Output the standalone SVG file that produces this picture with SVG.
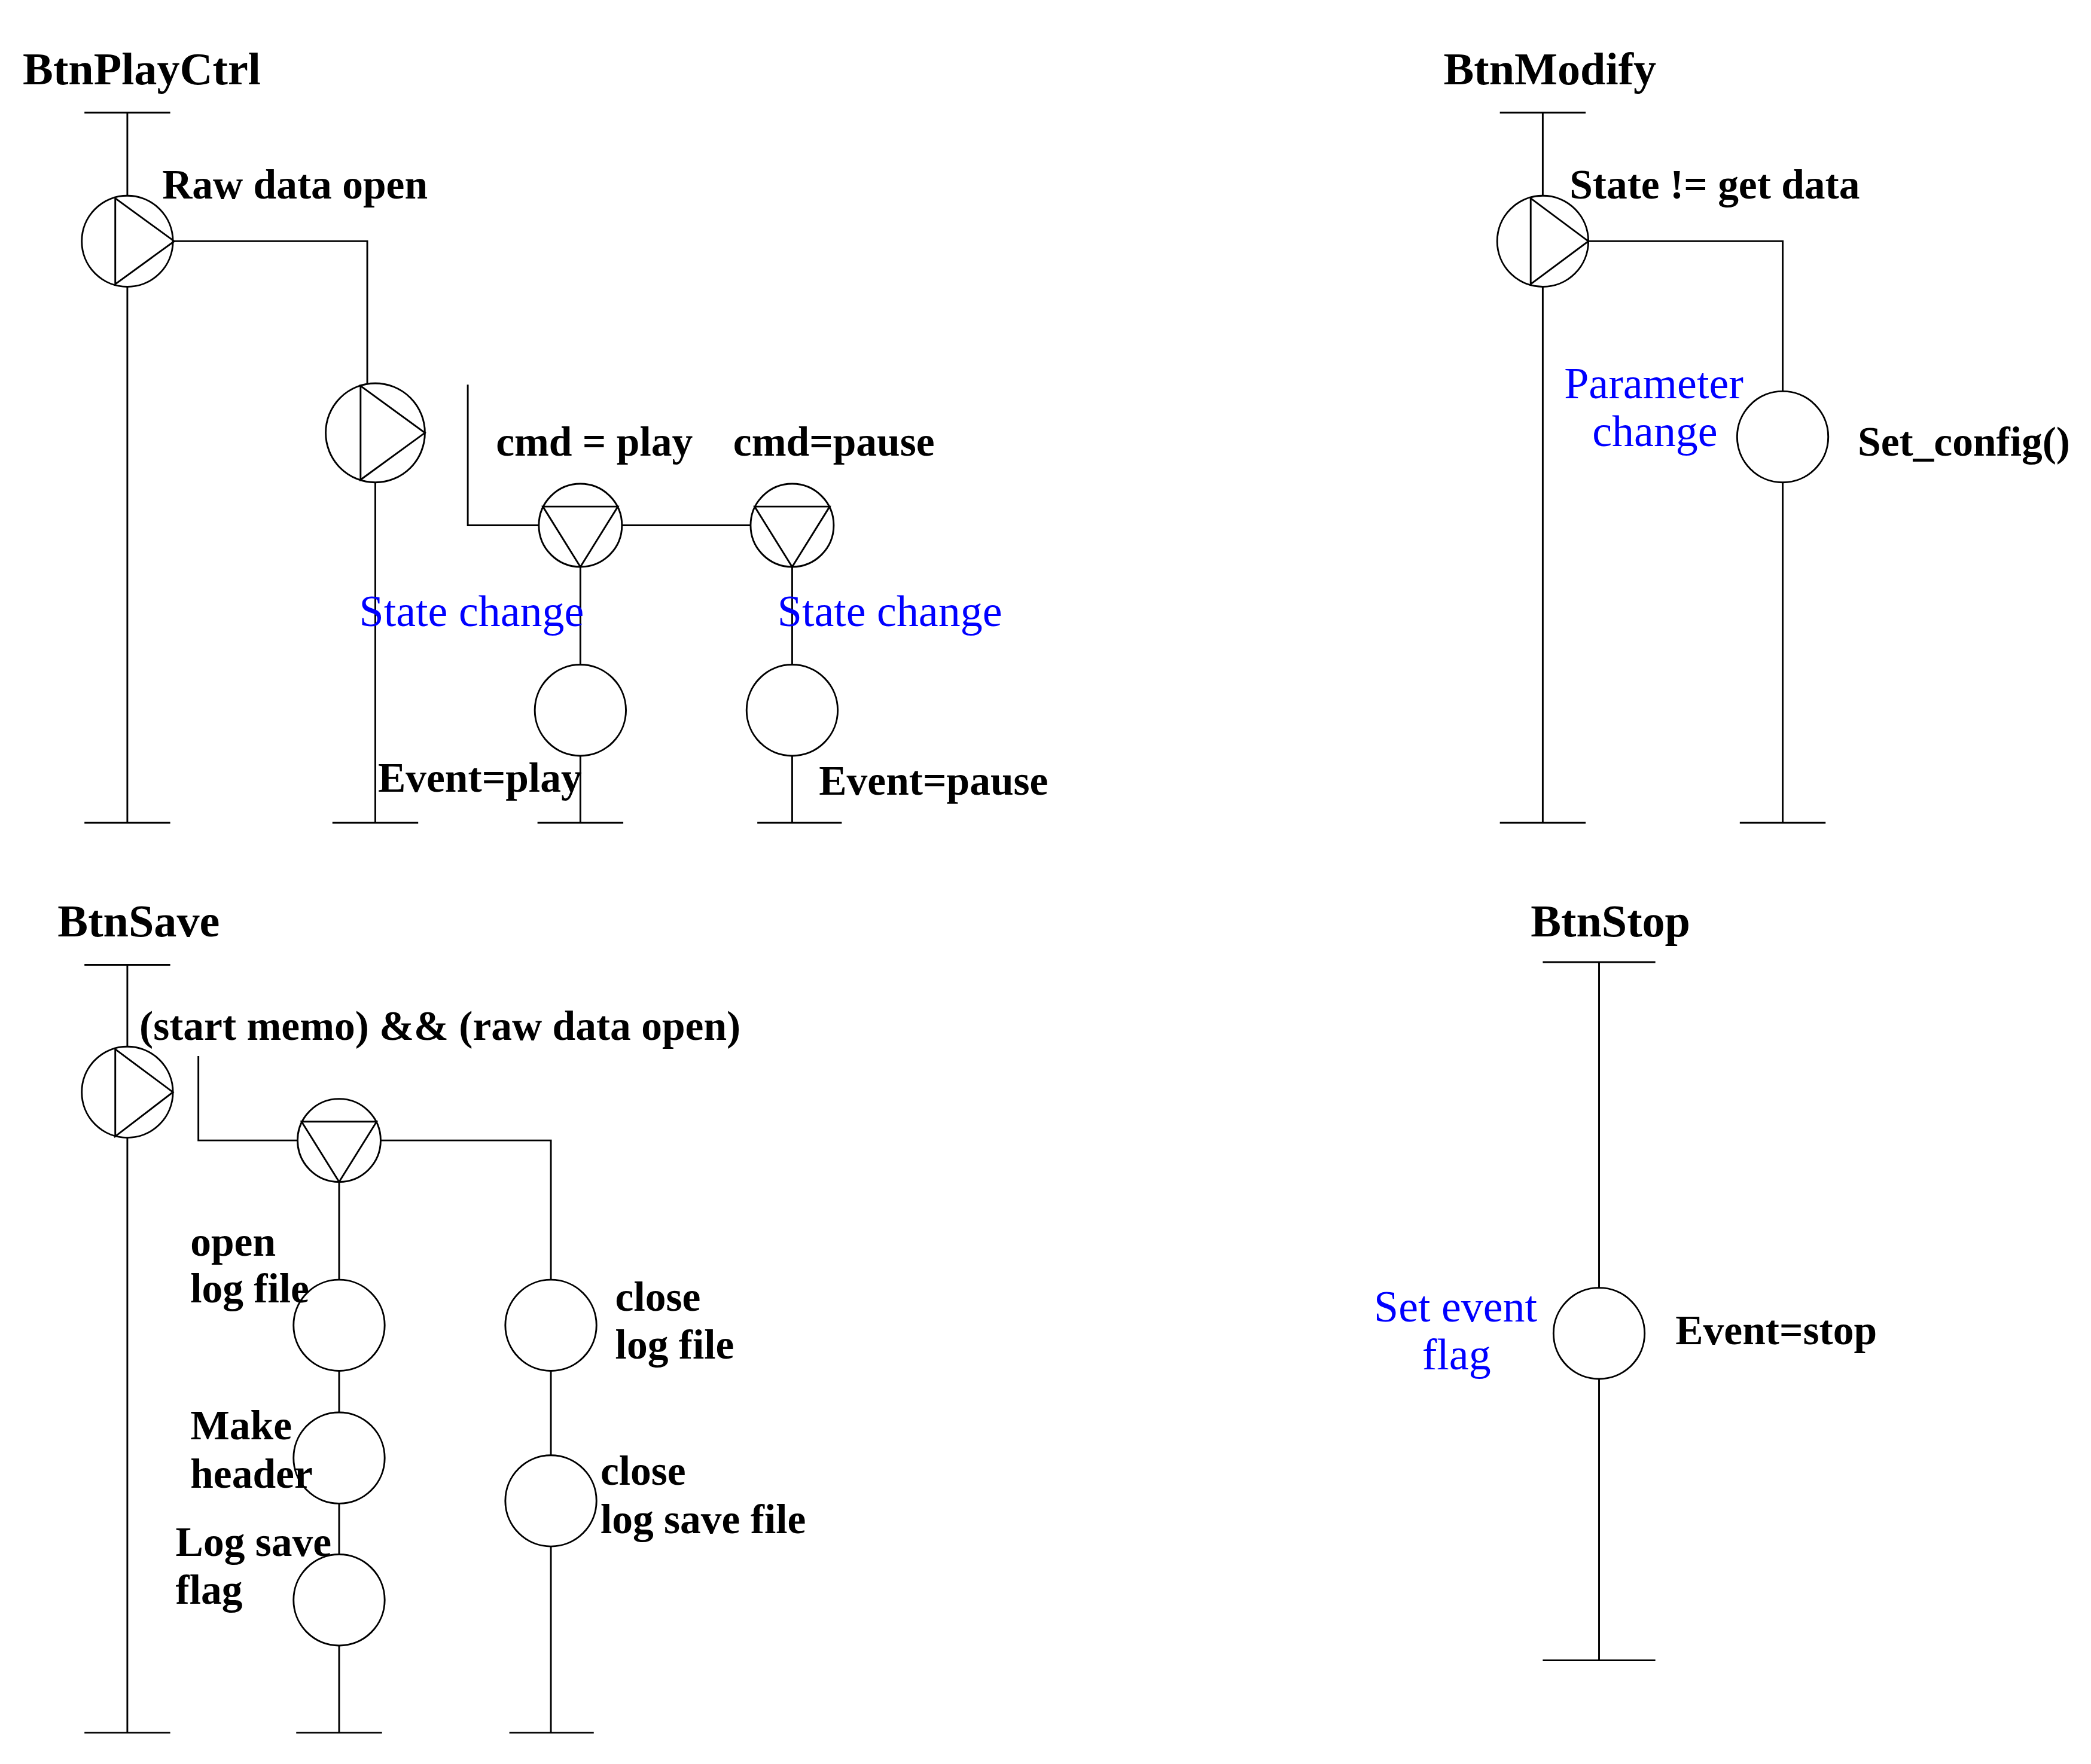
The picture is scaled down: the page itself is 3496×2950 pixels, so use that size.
<svg xmlns="http://www.w3.org/2000/svg" width="3496" height="2950" viewBox="0 0 3496 2950">
<style>
.l{stroke:#000;stroke-width:1.3;fill:none}
.c{stroke:#000;stroke-width:1.3;fill:#fff}
text{font-family:"Liberation Serif","DejaVu Serif",serif;font-size:31px;font-weight:bold;fill:#000}
.t{font-size:34px}
.b{fill:#0000ff;font-weight:normal;font-size:33px}
</style>
<rect width="3496" height="2950" fill="#fff"/>
<g transform="scale(2.241)">
<g id="connectors">
<path class="l" d="M63 84H127M95 84V614M63 614H127"/>
<path class="l" d="M130 180H274V288M280 360V614M248 614H312"/>
<path class="l" d="M349 287V392H403M464 392H560"/>
<path class="l" d="M433 423V497M433 564V614M401 614H465"/>
<path class="l" d="M591 423V496M591 564V614M565 614H628"/>
<path class="l" d="M1119 84H1183M1151 84V614M1119 614H1183"/>
<path class="l" d="M1185 180H1330V292M1330 360V614M1298 614H1362"/>
<path class="l" d="M63 720H127M95 720V1293M63 1293H127"/>
<path class="l" d="M148 788V851H223M284 851H411V955"/>
<path class="l" d="M411 1023V1087M411 1154V1293M380 1293H443"/>
<path class="l" d="M253 882V955M253 1023V1054M253 1122V1160M253 1228V1293M221 1293H285"/>
<path class="l" d="M1151 718H1235M1193 718V961M1193 1029V1239M1151 1239H1235"/>
</g>
<g id="n1"><circle class="c" cx="95" cy="180" r="34"/><path class="l" d="M86 148V212L130 180Z"/></g>
<g id="n2"><circle class="c" cx="280" cy="323" r="37"/><path class="l" d="M269 288V358L317 323Z"/></g>
<g id="n3"><circle class="c" cx="433" cy="392" r="31"/><path class="l" d="M405 378H461L433 423Z"/></g>
<g id="n4"><circle class="c" cx="591" cy="392" r="31"/><path class="l" d="M563 378H619L591 423Z"/></g>
<g id="n5"><circle class="c" cx="433" cy="530" r="34"/></g>
<g id="n6"><circle class="c" cx="591" cy="530" r="34"/></g>
<g id="n7"><circle class="c" cx="1151" cy="180" r="34"/><path class="l" d="M1142 148V212L1185 180Z"/></g>
<g id="n8"><circle class="c" cx="1330" cy="326" r="34"/></g>
<g id="n9"><circle class="c" cx="95" cy="815" r="34"/><path class="l" d="M86 783V848L129 815Z"/></g>
<g id="n10"><circle class="c" cx="253" cy="851" r="31"/><path class="l" d="M225 837H281L253 882Z"/></g>
<g id="n11"><circle class="c" cx="411" cy="989" r="34"/></g>
<g id="n12"><circle class="c" cx="411" cy="1120" r="34"/></g>
<g id="n13"><circle class="c" cx="253" cy="989" r="34"/></g>
<g id="n14"><circle class="c" cx="253" cy="1088" r="34"/></g>
<g id="n15"><circle class="c" cx="253" cy="1194" r="34"/></g>
<g id="n16"><circle class="c" cx="1193" cy="995" r="34"/></g>
<g id="labels">
<text class="t" x="17" y="63">BtnPlayCtrl</text>
<text x="121" y="148">Raw data open</text>
<text x="370" y="340">cmd = play</text>
<text x="547" y="340">cmd=pause</text>
<text class="b" x="268" y="467">State change</text>
<text class="b" x="580" y="467">State change</text>
<text x="282" y="591">Event=play</text>
<text x="611" y="593">Event=pause</text>
<text class="t" x="1077" y="63">BtnModify</text>
<text x="1171" y="148">State != get data</text>
<text class="b" x="1167" y="297">Parameter</text>
<text class="b" x="1188" y="333">change</text>
<text x="1386" y="340">Set_config()</text>
<text class="t" x="43" y="699">BtnSave</text>
<text x="104" y="776">(start memo) &amp;&amp; (raw data open)</text>
<text x="142" y="937">open</text>
<text x="142" y="972">log file</text>
<text x="142" y="1074">Make</text>
<text x="142" y="1110">header</text>
<text x="131" y="1161">Log save</text>
<text x="131" y="1197">flag</text>
<text x="459" y="978">close</text>
<text x="459" y="1014">log file</text>
<text x="448" y="1108">close</text>
<text x="448" y="1144">log save file</text>
<text class="t" x="1142" y="699">BtnStop</text>
<text class="b" x="1025" y="986">Set event</text>
<text class="b" x="1061" y="1022">flag</text>
<text x="1250" y="1003">Event=stop</text>
</g>
</g>
</svg>
